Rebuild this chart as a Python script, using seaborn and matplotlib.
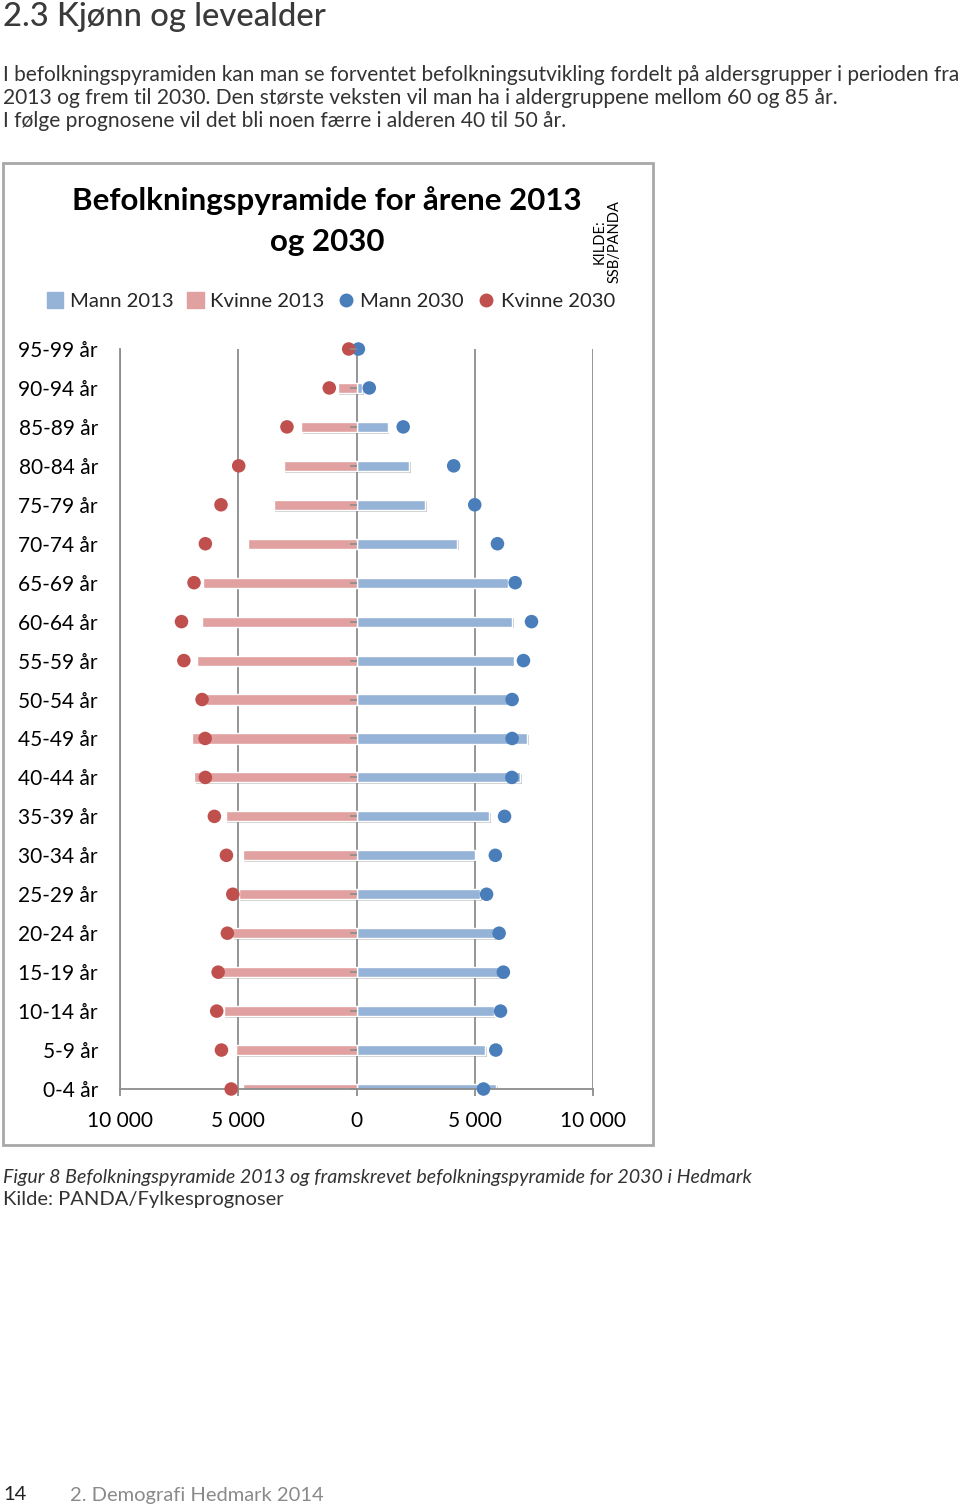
import numpy as np
import pandas as pd
import matplotlib.pyplot as plt
import seaborn as sns
from matplotlib.patches import Rectangle, Patch
from matplotlib.lines import Line2D
from matplotlib.ticker import FuncFormatter
import matplotlib.patheffects as pe

# Aldersgrupper, eldst øverst
ages = ['95-99 år', '90-94 år', '85-89 år', '80-84 år', '75-79 år', '70-74 år',
        '65-69 år', '60-64 år', '55-59 år', '50-54 år', '45-49 år', '40-44 år',
        '35-39 år', '30-34 år', '25-29 år', '20-24 år', '15-19 år', '10-14 år',
        '5-9 år', '0-4 år']

# Folketall lest av figuren
mann_2013 = [40, 250, 1320, 2240, 2900, 4250, 6390, 6570, 6650, 6390,
             7220, 6920, 5600, 5000, 5230, 5850, 6300, 5800, 5440, 5900]
kvinne_2013 = [150, 800, 2350, 3080, 3500, 4590, 6490, 6530, 6760, 6370,
               6960, 6850, 5530, 4820, 4980, 5270, 5980, 5620, 5090, 4790]
mann_2030 = [80, 540, 1975, 4110, 5000, 5960, 6710, 7400, 7060, 6580,
             6580, 6570, 6260, 5870, 5500, 6030, 6210, 6090, 5890, 5370]
kvinne_2030 = [330, 1150, 2940, 4980, 5730, 6390, 6870, 7400, 7300, 6530,
               6400, 6390, 6010, 5500, 5230, 5460, 5850, 5910, 5710, 5300]

x_ticks = [-10000, -5000, 0, 5000, 10000]

sns.set_theme(style='white')
page_font = ['Lato', 'DejaVu Sans']
chart_font = ['Lato', 'DejaVu Sans']
plt.rcParams['font.family'] = chart_font

df = pd.DataFrame({
    'alder': ages,
    'pos': np.arange(len(ages)),
    'mann_2013': mann_2013,
    'kvinne_2013': -np.array(kvinne_2013),
    'mann_2030': mann_2030,
    'kvinne_2030': -np.array(kvinne_2030),
})

W, H = 960, 1508
fig = plt.figure(figsize=(W / 100, H / 100), dpi=100)
renderer = fig.canvas.get_renderer()


def fx(px):
    return px / W


def fy(py):
    return 1 - py / H


def page_text(x0, x1, y, s, size, **kw):
    # place text and scale it so it spans x0..x1 pixels like the page
    t = fig.text(fx(x0), fy(y), s, fontsize=size, family=page_font, va='center', ha='left', **kw)
    w = t.get_window_extent(renderer).width
    t.set_fontsize(size * (x1 - x0) / w)
    return t


# page text
page_text(3, 325, 17, '2.3 Kjønn og levealder', 22, color='#3a3a3a', fontweight='medium')
page_text(3, 958, 75, 'I befolkningspyramiden kan man se forventet befolkningsutvikling fordelt på aldersgrupper i perioden fra',
          13, color='#333333')
page_text(3, 838, 98, '2013 og frem til 2030. Den største veksten vil man ha i aldergruppene mellom 60 og 85 år.',
          13, color='#333333')
page_text(3, 566, 121, 'I følge prognosene vil det bli noen færre i alderen 40 til 50 år.', 13, color='#333333')
page_text(3, 752, 1178, 'Figur 8 Befolkningspyramide 2013 og framskrevet befolkningspyramide for 2030 i Hedmark',
          13, color='#333333', style='italic')
page_text(3, 282, 1200, 'Kilde: PANDA/Fylkesprognoser', 13, color='#333333')
foot = page_text(70, 323, 1495, '2. Demografi Hedmark 2014', 13, color='#8a8a8a')
fig.text(fx(3), fy(1495), '14', fontsize=foot.get_fontsize(), family=page_font,
         color='#222222', va='center', ha='left')

# chart frame
fig.patches.append(Rectangle((fx(3), fy(1145)), fx(650), 982 / H, transform=fig.transFigure,
                             fill=False, edgecolor='#a8a8a8', linewidth=2))

fig.text(fx(327), fy(201), 'Befolkningspyramide for årene 2013', fontsize=22.5, fontweight='bold',
         color='black', ha='center', va='center')
fig.text(fx(327), fy(242), 'og 2030', fontsize=22.5, fontweight='bold',
         color='black', ha='center', va='center')
fig.text(fx(607), fy(242), 'KILDE:\nSSB/PANDA', fontsize=10.5, rotation=90, color='black',
         ha='center', va='center', linespacing=1.1)

ax = fig.add_axes([fx(120), fy(1089), 473 / W, 740 / H])

sns.barplot(data=df, x='mann_2013', y='alder', orient='h', color='#95b3d7', saturation=1,
            width=0.26, ax=ax, zorder=2)
sns.barplot(data=df, x='kvinne_2013', y='alder', orient='h', color='#e0a1a0', saturation=1,
            width=0.26, ax=ax, zorder=2)
shadow = [pe.SimplePatchShadow(offset=(1.2, -1.2), alpha=0.25), pe.Normal()]
for bar in ax.patches:
    bar.set_path_effects(shadow)
sns.scatterplot(data=df, x='mann_2030', y='pos', color='#4a7ebb', s=95, edgecolor='none',
                ax=ax, zorder=4, clip_on=False)
sns.scatterplot(data=df, x='kvinne_2030', y='pos', color='#c0504d', s=95, edgecolor='none',
                ax=ax, zorder=4, clip_on=False)

ax.set_xlim(-10000, 10000)
ax.set_ylim(len(ages) - 1, 0)
ax.set_xticks(x_ticks)
ax.xaxis.set_major_formatter(FuncFormatter(lambda v, p: f'{abs(int(v)):,}'.replace(',', ' ')))
ax.set_xlabel('')
ax.set_ylabel('')
ax.set_axisbelow(True)
ax.xaxis.grid(True, color='#8c8c8c', linewidth=1.3)
ax.yaxis.grid(False)
for side in ['top', 'right']:
    ax.spines[side].set_visible(False)
for side in ['left', 'bottom']:
    ax.spines[side].set_color('#8c8c8c')
    ax.spines[side].set_linewidth(1.3)
ax.tick_params(axis='y', length=0, pad=16, labelsize=15, labelcolor='black')
ax.tick_params(axis='x', length=5, width=1.3, color='#8c8c8c', direction='out', bottom=True,
               pad=11, labelsize=15, labelcolor='black')
if ax.get_legend():
    ax.get_legend().remove()

# small tick marks on the zero line
ax2 = ax.twinx()
ax2.set_ylim(ax.get_ylim())
ax2.yaxis.tick_left()
ax2.spines['left'].set_position(('data', 0))
for side in ax2.spines:
    ax2.spines[side].set_visible(False)
ax2.set_yticks(df['pos'])
ax2.set_yticklabels([])
ax2.tick_params(axis='y', length=5, width=1.2, color='#8c8c8c', direction='out')

handles = [Patch(color='#95b3d7'), Patch(color='#e0a1a0'),
           Line2D([], [], marker='o', ls='', color='#4a7ebb', markersize=9),
           Line2D([], [], marker='o', ls='', color='#c0504d', markersize=9)]
fig.legend(handles, ['Mann 2013', 'Kvinne 2013', 'Mann 2030', 'Kvinne 2030'],
           loc='center', bbox_to_anchor=(fx(331), fy(301)), ncol=4, frameon=False,
           fontsize=14.6, handlelength=0.8, handleheight=0.8, handletextpad=0.3,
           columnspacing=0.7)

fig.savefig('out.png', dpi=100)
